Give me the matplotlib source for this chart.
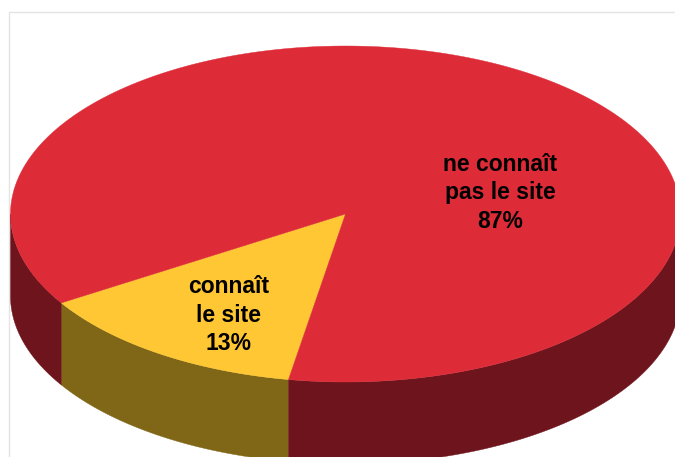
import numpy as np
import matplotlib
matplotlib.use('Agg')
import matplotlib.pyplot as plt

labels = ['connaît\nle site\n13%', 'ne connaît\npas le site\n87%']
values = [13.4, 86.6]
top_colors = ['#FFC733', '#DD2C38']
side_colors = ['#7F6717', '#6E141C']

cx, cy = 345.5, 214  # pie centre in pixels
rx, ry = 335, 168
depth = 82
start = 99.8  # angle of the first slice edge
label_pos = [(228.5, 315), (500, 193)]


def arc(a1, a2):
    t = np.radians(np.linspace(a1, a2, 300))
    return cx + rx * np.cos(t), cy + ry * np.sin(t)


fig = plt.figure(figsize=(6.75, 4.57), dpi=100)
ax = fig.add_axes([0, 0, 1, 1])
ax.set_xlim(0, 675)
ax.set_ylim(457, 0)
ax.axis('off')

# light frame of the chart area
ax.plot([8.5, 8.5, 675], [457, 11.5, 11.5], color='#E4E4E4', lw=1, zorder=0)

a = start
for val, label, top, side, pos in zip(values, labels, top_colors, side_colors, label_pos):
    a2 = a + val / sum(values) * 360
    # side wall, only the front half of the pie shows
    for lo, hi in [(0, 180), (360, 540)]:
        s1, s2 = max(a, lo), min(a2, hi)
        if s1 < s2:
            x, y = arc(s1, s2)
            ax.fill(np.r_[x, x[::-1]], np.r_[y, y[::-1] + depth], fc=side, ec=side, lw=0.3, zorder=1)
    x, y = arc(a, a2)
    ax.fill(np.r_[cx, x], np.r_[cy, y], fc=top, ec=top, lw=0.3, zorder=2)
    ax.text(pos[0], pos[1], label, ha='center', va='center', fontsize=16.5,
            fontweight='bold', family='Liberation Sans', linespacing=1.3, zorder=3)
    a = a2

fig.savefig('out.png', dpi=100)
